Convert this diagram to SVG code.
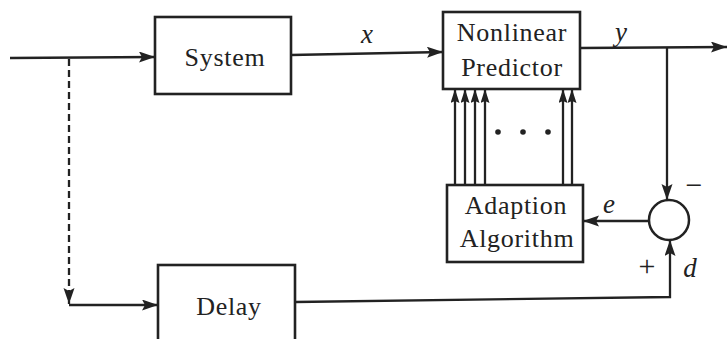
<svg xmlns="http://www.w3.org/2000/svg" width="727" height="339" viewBox="0 0 727 339">
<style>
.box{fill:#fff;stroke:#222;stroke-width:2.6}
.ln{fill:none;stroke:#222;stroke-width:2.3}
.lbl{font-family:"Liberation Serif","Times New Roman",serif;font-size:26px;fill:#222;text-anchor:middle;letter-spacing:0.7px}
.math{font-family:"Liberation Serif","Times New Roman",serif;font-size:27px;font-style:italic;fill:#222;text-anchor:middle}
.sign{font-family:"Liberation Serif","Times New Roman",serif;font-size:30px;fill:#222;text-anchor:middle}
</style>
<defs>
<marker id="ah" markerUnits="userSpaceOnUse" markerWidth="17" markerHeight="12" refX="16" refY="5.5" orient="auto">
<path d="M0,0 L16,5.5 L0,11 L3,5.5 z" fill="#222"/>
</marker>
<marker id="ahs" markerUnits="userSpaceOnUse" markerWidth="14" markerHeight="10" refX="14" refY="4.5" orient="auto">
<path d="M0,0 L14,4.5 L0,9 L2,4.5 z" fill="#222"/>
</marker>
</defs>
<g id="connectors">
<path class="ln" d="M10,58 L155,57" marker-end="url(#ah)"/>
<path class="ln" d="M69,59 L69,304" stroke-width="2.8" stroke-dasharray="7 4" marker-end="url(#ah)"/>
<path class="ln" d="M69,305 L158,305" marker-end="url(#ah)"/>
<path class="ln" d="M291,55 L443,52" marker-end="url(#ah)"/>
<path class="ln" d="M580,48 L727,47" marker-end="url(#ah)"/>
<path class="ln" d="M667,48 L667,200" marker-end="url(#ah)"/>
<path class="ln" d="M649,221 L583,221" marker-end="url(#ah)"/>
<path class="ln" d="M295,302 L670,297 L670,240" marker-end="url(#ah)"/>
<path class="ln" d="M455,185 L455,89" marker-end="url(#ahs)"/>
<path class="ln" d="M465,185 L465,89" marker-end="url(#ahs)"/>
<path class="ln" d="M475,185 L475,89" marker-end="url(#ahs)"/>
<path class="ln" d="M485,185 L485,89" marker-end="url(#ahs)"/>
<path class="ln" d="M563,185 L563,89" marker-end="url(#ahs)"/>
<path class="ln" d="M572,185 L572,89" marker-end="url(#ahs)"/>
<circle cx="498" cy="132" r="2.8" fill="#222"/>
<circle cx="523" cy="132" r="2.8" fill="#222"/>
<circle cx="548" cy="132" r="2.8" fill="#222"/>
<text class="math" x="367" y="43">x</text>
<text class="math" x="621" y="41">y</text>
<text class="math" x="609" y="213">e</text>
<text class="math" x="690" y="277">d</text>
<text class="sign" x="694" y="195">−</text>
<text class="sign" x="647" y="276">+</text>
</g>
<g id="system">
<rect class="box" x="155" y="17" width="136" height="77"/>
<text class="lbl" x="225" y="66">System</text>
</g>
<g id="predictor">
<rect class="box" x="443" y="12" width="137" height="77"/>
<text class="lbl" x="512" y="41">Nonlinear</text>
<text class="lbl" x="512" y="76">Predictor</text>
</g>
<g id="adaption">
<rect class="box" x="447" y="185" width="136" height="77"/>
<text class="lbl" x="516" y="214">Adaption</text>
<text class="lbl" x="517" y="247">Algorithm</text>
</g>
<g id="delay">
<rect class="box" x="158" y="265" width="137" height="80"/>
<text class="lbl" x="229" y="315">Delay</text>
</g>
<g id="sum">
<circle cx="669" cy="220" r="20" fill="#fff" stroke="#222" stroke-width="2.5"/>
</g>
</svg>
